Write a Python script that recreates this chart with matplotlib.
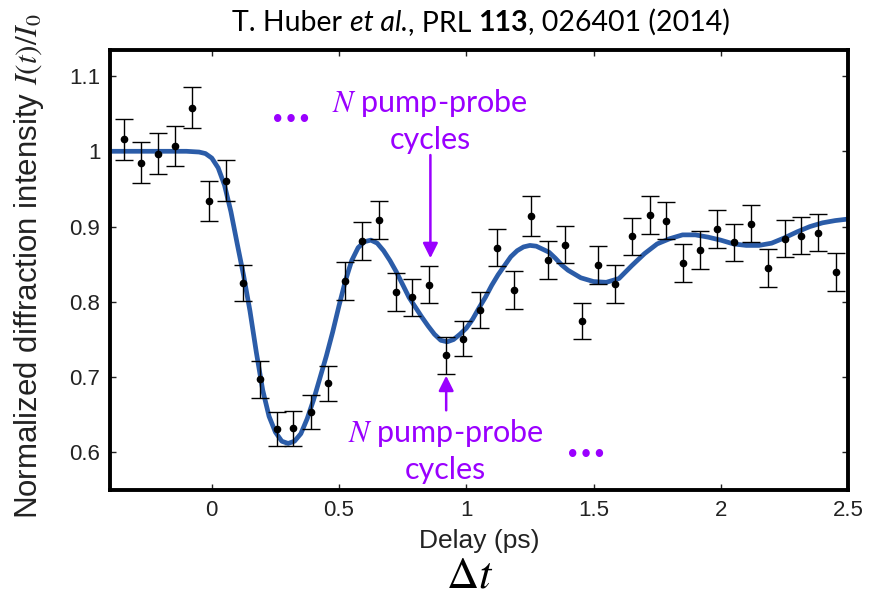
import numpy as np
import matplotlib
matplotlib.use("Agg")
import matplotlib.pyplot as plt

plt.rcParams['mathtext.fontset'] = 'stix'
plt.rcParams['font.family'] = ['Liberation Sans', 'DejaVu Sans']

# measured points (delay in ps, normalized intensity, error)
delay = [-0.345, -0.278, -0.211, -0.144, -0.078, -0.011, 0.055, 0.122, 0.189,
         0.256, 0.321, 0.388, 0.456, 0.522, 0.589, 0.656, 0.723, 0.788, 0.855,
         0.922, 0.988, 1.055, 1.122, 1.187, 1.254, 1.320, 1.387, 1.454, 1.519,
         1.586, 1.653, 1.720, 1.786, 1.853, 1.918, 1.985, 2.052, 2.118, 2.185,
         2.252, 2.317, 2.384, 2.451]
intensity = [1.016, 0.985, 0.997, 1.007, 1.058, 0.934, 0.961, 0.825, 0.697,
             0.631, 0.632, 0.654, 0.692, 0.828, 0.881, 0.909, 0.813, 0.806, 0.823,
             0.729, 0.751, 0.789, 0.872, 0.816, 0.914, 0.856, 0.876, 0.775, 0.849,
             0.824, 0.887, 0.915, 0.908, 0.852, 0.869, 0.897, 0.879, 0.904, 0.845,
             0.884, 0.888, 0.892, 0.840]
err = [0.027, 0.027, 0.027, 0.027, 0.027, 0.027, 0.027, 0.024, 0.024,
       0.023, 0.023, 0.023, 0.023, 0.025, 0.025, 0.025, 0.025, 0.025, 0.025,
       0.025, 0.023, 0.024, 0.025, 0.025, 0.026, 0.025, 0.025, 0.024, 0.025,
       0.025, 0.025, 0.025, 0.025, 0.025, 0.025, 0.025, 0.025, 0.025, 0.025,
       0.025, 0.025, 0.025, 0.025]

# fit curve
fit_t = [-0.40, -0.30, -0.20, -0.10, -0.05, -0.025, 0.00, 0.025, 0.05, 0.075, 0.10,
         0.125, 0.15, 0.175, 0.20, 0.225, 0.25, 0.275, 0.30, 0.325, 0.35,
         0.375, 0.40, 0.425, 0.45, 0.475, 0.50, 0.525, 0.55, 0.575, 0.60,
         0.625, 0.65, 0.675, 0.70, 0.725, 0.75, 0.775, 0.80, 0.825, 0.85,
         0.875, 0.90, 0.925, 0.95, 0.975, 1.00, 1.025, 1.05, 1.075, 1.10,
         1.125, 1.15, 1.175, 1.20, 1.225, 1.25, 1.275, 1.30, 1.325, 1.35,
         1.375, 1.40, 1.45, 1.50, 1.55, 1.60, 1.65, 1.70, 1.75, 1.80,
         1.85, 1.90, 1.95, 2.00, 2.05, 2.10, 2.15, 2.20, 2.25, 2.30,
         2.35, 2.40, 2.45, 2.50]
fit_y = [1.000, 1.000, 1.000, 1.000, 0.999, 0.997, 0.991, 0.978, 0.955, 0.920, 0.877,
         0.835, 0.788, 0.733, 0.683, 0.648, 0.627, 0.615, 0.612, 0.615, 0.625,
         0.645, 0.670, 0.699, 0.728, 0.760, 0.795, 0.828, 0.855, 0.872, 0.880,
         0.882, 0.878, 0.868, 0.855, 0.840, 0.823, 0.806, 0.793, 0.780, 0.768,
         0.757, 0.749, 0.747, 0.750, 0.757, 0.765, 0.777, 0.792, 0.806, 0.822,
         0.836, 0.848, 0.860, 0.868, 0.873, 0.875, 0.874, 0.870, 0.866, 0.858,
         0.849, 0.842, 0.832, 0.827, 0.826, 0.831, 0.848, 0.864, 0.877, 0.884,
         0.889, 0.889, 0.886, 0.882, 0.877, 0.875, 0.875, 0.878, 0.885, 0.893,
         0.900, 0.905, 0.908, 0.910]

purple = '#9a00ff'
W, H = 875, 606

fig = plt.figure(figsize=(W / 100, H / 100), dpi=100)
ax = fig.add_axes([110 / W, 1 - 490 / H, 738 / W, 440 / H])

ax.plot(fit_t, fit_y, color='#2b5ca8', lw=3.4, zorder=2, solid_capstyle='round',
        solid_joinstyle='round')
ax.errorbar(delay, intensity, yerr=err, fmt='o', color='black', ms=4.5,
            elinewidth=1.0, capsize=6.5, capthick=1.0, zorder=3)

ax.set_xlim(-0.40, 2.50)
ax.set_ylim(0.5502, 1.1345)
ax.set_xticks([0, 0.5, 1, 1.5, 2, 2.5])
ax.set_xticklabels(['0', '0.5', '1', '1.5', '2', '2.5'])
ax.set_yticks([0.6, 0.7, 0.8, 0.9, 1.0, 1.1])
ax.set_yticklabels(['0.6', '0.7', '0.8', '0.9', '1', '1.1'])
ax.tick_params(direction='in', length=4.5, width=1, top=True, right=True,
               labelsize=16, colors='#222222', pad=7)
for s in ax.spines.values():
    s.set_linewidth(2.8)

ax.set_xlabel('Delay (ps)', fontsize=19, color='#222222', labelpad=6)
fig.text(29 / W, 1 - 266 / H, r'Normalized diffraction intensity $I(t)/I_0$',
         rotation=90, ha='center', va='center', fontsize=22.5, color='#222222')
fig.text(470 / W, 1 - 576 / H, r'$\Delta t$', ha='center', va='center',
         fontsize=32)

# annotations
ann = dict(family=['Lato', 'DejaVu Sans'], color=purple, fontsize=22,
           ha='center', va='baseline')
ax.text(0.858, 1.0526, r'$N$ pump-probe', **ann)
ax.text(0.858, 1.0027, 'cycles', **ann)
ax.text(0.919, 0.6143, r'$N$ pump-probe', **ann)
ax.text(0.919, 0.5648, 'cycles', **ann)
ax.annotate('', xy=(0.859, 0.858), xytext=(0.859, 0.995),
            arrowprops=dict(arrowstyle='-|>,head_length=0.9,head_width=0.45',
                            color=purple, lw=1.8, shrinkA=0, shrinkB=0))
ax.annotate('', xy=(0.921, 0.702), xytext=(0.921, 0.656),
            arrowprops=dict(arrowstyle='-|>,head_length=0.9,head_width=0.45',
                            color=purple, lw=1.8, shrinkA=0, shrinkB=0))
dots = dict(family='DejaVu Sans', fontweight='bold', color=purple, fontsize=15,
            ha='center', va='center')
ax.text(0.310, 1.0416, '•••', **dots)
ax.text(1.470, 0.5967, '•••', **dots)

# title with mixed styles, pieces placed side by side
r = fig.canvas.get_renderer()
tsize = 20.5
parts = [('T. Huber', {}), (' ', {}), ('et al.', {'style': 'italic'}),
         (', PRL', {}), (' ', {}), ('113', {'weight': 'bold'}),
         (', 026401 (2014)', {})]
probe = fig.text(0, 0, 'a a', family='Lato', fontsize=tsize)
probe2 = fig.text(0, 0, 'aa', family='Lato', fontsize=tsize)
space_w = probe.get_window_extent(r).width - probe2.get_window_extent(r).width
probe.remove()
probe2.remove()
objs, widths = [], []
for s, kw in parts:
    if s == ' ':
        objs.append(None)
        widths.append(space_w)
        continue
    t = fig.text(0, 1 - 31 / H, s, family='Lato', fontsize=tsize, va='baseline', **kw)
    objs.append(t)
    widths.append(t.get_window_extent(r).width)
x = 481 - sum(widths) / 2
for t, w in zip(objs, widths):
    if t is not None:
        t.set_x(x / W)
    x += w

fig.savefig('out.png', dpi=100)
